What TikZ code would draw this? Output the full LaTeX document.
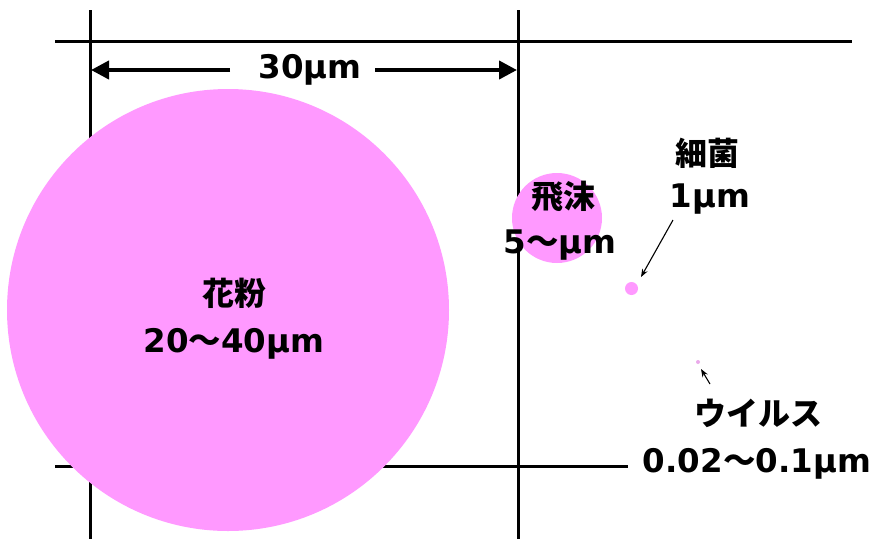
\documentclass[tikz,border=0pt]{standalone}
\usepackage{fontspec}
\setmainfont{DejaVu Sans}
\newfontfamily\jp{Noto Sans CJK JP}
\usetikzlibrary{arrows.meta}
\definecolor{pinkfill}{RGB}{255,153,255}
\definecolor{palepink}{RGB}{235,170,235}
\begin{document}
\begin{tikzpicture}[x=1pt,y=-1pt,
  gridline/.style={line width=3pt,black},
  lbl/.style={font=\fontsize{32.5}{38}\selectfont\bfseries, inner sep=0pt, anchor=base},
  jlbl/.style={font=\fontsize{32}{38}\selectfont\jp\bfseries, inner sep=0pt, anchor=base},
  dimarrow/.style={line width=4pt,-{Triangle[length=18pt,width=18pt]}},
  pointer/.style={line width=1.1pt,black,-{Stealth[length=8pt,width=6pt]}},
  particle/.style={circle,fill=pinkfill,draw=none,inner sep=0pt}]
\useasboundingbox (0,0) rectangle (878,539);
\fill[white] (0,0) rectangle (878,539);
% grid lines
\coordinate (tl) at (55,41);  \coordinate (tr) at (852,41);
\coordinate (bl) at (55,466); \coordinate (br) at (628,466);
\coordinate (v1t) at (90,10);  \coordinate (v1b) at (90,539);
\coordinate (v2t) at (518,10); \coordinate (v2b) at (518,539);
\draw[gridline] (tl) -- (tr);
\draw[gridline] (bl) -- (br);
\draw[gridline] (v1t) -- (v1b);
\draw[gridline] (v2t) -- (v2b);
% particles
\node[particle, minimum size=442pt] (pollen) at (228,310) {};
\node[particle, minimum size=90pt] (droplet) at (557,218) {};
\node[particle, minimum size=13pt] (bacteria) at (631.5,288.5) {};
\node[circle, fill=palepink, inner sep=0pt, minimum size=4pt] (virus) at (698,362) {};
% dimension
\node[lbl] (dim) at (310,78) {30μm};
\coordinate (dimL) at (91,70); \coordinate (dimLs) at (230,70);
\coordinate (dimR) at (517,70); \coordinate (dimRs) at (375,70);
\draw[dimarrow] (dimLs) -- (dimL);
\draw[dimarrow] (dimRs) -- (dimR);
% labels
\node[jlbl] (pollenname) at (234,305) {花粉};
\node[lbl] (pollensize) at (234,352) {20{\jp 〜}40μm};
\node[jlbl] (dropname) at (563,208) {飛沫};
\node[lbl] (dropsize) at (560,253) {5{\jp 〜}μm};
\node[jlbl] (bacname) at (707,165) {細菌};
\node[lbl] (bacsize) at (710,207) {1μm};
\node[jlbl] (virname) at (758,425) {ウイルス};
\node[lbl] (virsize) at (757,472) {0.02{\jp 〜}0.1μm};
% pointers
\coordinate (bacTail) at (673,220); \coordinate (bacTip) at (641,277);
\coordinate (virTail) at (710,384); \coordinate (virTip) at (701,369);
\draw[pointer] (bacTail) -- (bacTip);
\draw[pointer] (virTail) -- (virTip);
\end{tikzpicture}
\end{document}
